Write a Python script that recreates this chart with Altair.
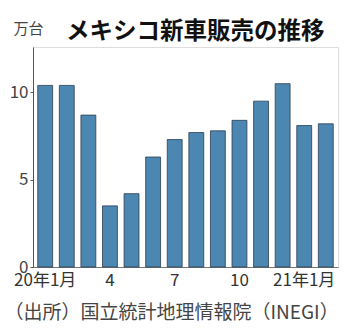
import altair as alt
import pandas as pd

months = ["2020-01", "2020-02", "2020-03", "2020-04", "2020-05", "2020-06", "2020-07",
          "2020-08", "2020-09", "2020-10", "2020-11", "2020-12", "2021-01", "2021-02"]
sales = [10.4, 10.4, 8.7, 3.5, 4.2, 6.3, 7.3, 7.7, 7.8, 8.4, 9.5, 10.5, 8.1, 8.2]
tick_keys = ["2020-01", "2020-04", "2020-07", "2020-10", "2021-01"]
tick_texts = ["20年1月", "4", "7", "10", "21年1月"]

df = pd.DataFrame({"month": months, "sales": sales})

label_expr = " : ".join(
    [f"datum.value == '{k}' ? '{t}'" for k, t in zip(tick_keys, tick_texts)]
) + " : ''"

FONT = "Noto Sans CJK JP"

chart = alt.Chart(df).mark_bar(
    color="#4b87b1", stroke="#2d3e50", strokeWidth=0.8
).encode(
    x=alt.X("month:O", sort=months,
            scale=alt.Scale(paddingInner=0.31, paddingOuter=0.22),
            axis=alt.Axis(
                title="（出所）国立統計地理情報院（INEGI）",
                titleX=-29, titleY=45, titleAnchor="start", titleAlign="left",
                titleBaseline="middle", titleFont=FONT, titleFontSize=19,
                titleFontWeight="normal", titleColor="#444",
                labelExpr=label_expr, labelAngle=0, labelFont=FONT,
                labelFontSize=17, labelColor="#333", labelPadding=5,
                ticks=False, domainColor="#777", labelOverlap=False,
            )),
    y=alt.Y("sales:Q",
            scale=alt.Scale(domain=[0, 12.6], nice=False),
            axis=alt.Axis(
                title="万台", titleAngle=0, titleX=-5, titleY=-19,
                titleAlign="center", titleBaseline="middle", titleFont=FONT,
                titleFontSize=15, titleFontWeight="normal", titleColor="#444",
                values=[0, 5, 10], grid=False, tickSize=3, tickColor="#555",
                domainColor="#555", labelFont=FONT, labelFontSize=17,
                labelColor="#444", labelPadding=2,
            )),
).properties(
    width=305, height=220,
    title=alt.TitleParams(
        "メキシコ新車販売の推移", anchor="start", dx=62, dy=22, offset=0,
        font=FONT, fontSize=23.5, fontWeight="bold", color="#111",
    ),
    autosize=alt.AutoSizeParams(type="none"),
    padding={"left": 33, "top": 47, "right": 12, "bottom": 62},
).configure_view(stroke=None).configure(background="white")

chart.save("out.html", embed_options={"renderer": "svg", "actions": False})
